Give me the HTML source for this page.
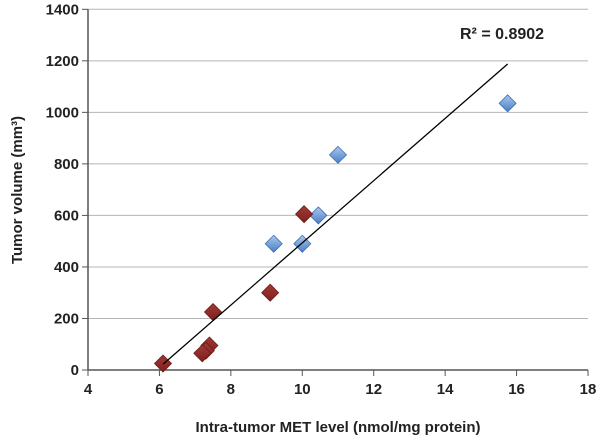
<!DOCTYPE html>
<html><head><meta charset="utf-8"><style>
body{margin:0;background:#fff;}
svg text{font-family:"Liberation Sans",sans-serif;fill:#222;}
</style></head><body>
<svg id="chart" width="600" height="442" viewBox="0 0 600 442">
<defs>
<linearGradient id="gb" x1="0" y1="0" x2="0" y2="1"><stop offset="0" stop-color="#a9c8ef"/><stop offset="1" stop-color="#4a7fc4"/></linearGradient>
<linearGradient id="gr" x1="0" y1="0" x2="0" y2="1"><stop offset="0" stop-color="#a03a36"/><stop offset="1" stop-color="#7d201e"/></linearGradient>
</defs>
<g id="grid"></g><g id="axes"></g><g id="marks"></g>
<text x="460" y="39" font-size="16" font-weight="bold">R² = 0.8902</text>
<text x="338" y="432" font-size="15" font-weight="bold" text-anchor="middle">Intra-tumor MET level (nmol/mg protein)</text>
<text transform="translate(22,190) rotate(-90)" font-size="15" font-weight="bold" text-anchor="middle">Tumor volume (mm³)</text>
</svg>
<script>
const xTicks=[4,6,8,10,12,14,16,18];
const yTicks=[0,200,400,600,800,1000,1200,1400];
const blueX=[15.75,11.0,10.45,10.0,9.2];
const blueY=[1035,835,600,490,490];
const redX=[10.05,9.1,7.5,7.4,7.3,7.2,6.1];
const redY=[605,300,225,95,75,65,25];
const NS="http://www.w3.org/2000/svg";
const x0=88,x1=588,y0=370,y1=9.3;
const sx=v=>x0+(v-4)/(18-4)*(x1-x0);
const sy=v=>y0-(v/1400)*(y0-y1);
function mk(tag,attrs,parent){const e=document.createElementNS(NS,tag);for(const k in attrs)e.setAttribute(k,attrs[k]);parent.appendChild(e);return e;}
const grid=document.getElementById('grid'),axes=document.getElementById('axes'),marks=document.getElementById('marks');
yTicks.forEach(t=>{
  if(t>0){const l=mk('line',{x1:x0,x2:x1,y1:sy(t),y2:sy(t),stroke:'#b5b5b5','stroke-width':1},grid);
  
  }
  const tk=mk('line',{x1:x0-6,x2:x0,y1:sy(t),y2:sy(t),stroke:'#555'},axes);
  
  
  const tx=mk('text',{x:x0-9,y:sy(t)+5,'font-size':15,'font-weight':'bold','text-anchor':'end'},axes);
  tx.textContent=t;
  
  
});
xTicks.forEach(t=>{
  const tk=mk('line',{x1:sx(t),x2:sx(t),y1:y0,y2:y0+6,stroke:'#555'},axes);
  
  
  const tx=mk('text',{x:sx(t),y:y0+24,'font-size':15,'font-weight':'bold','text-anchor':'middle'},axes);
  tx.textContent=t;
  
  
});
const ya=mk('line',{x1:x0,x2:x0,y1:y1,y2:y0,stroke:'#555','stroke-width':1.5},axes);


const xa=mk('line',{x1:x0,x2:x1,y1:y0,y2:y0,stroke:'#555','stroke-width':1.5},axes);


function diamond(x,y,fill,stroke){
  const cx=sx(x),cy=sy(y),r=8.5;
  const p=mk('polygon',{points:`${cx},${cy-r} ${cx+r},${cy} ${cx},${cy+r} ${cx-r},${cy}`,fill:fill,stroke:stroke,'stroke-width':0.8},marks);
  return p;
}
blueX.forEach((x,i)=>{const p=diamond(x,blueY[i],'url(#gb)','#3d6eae');
  
  });
redX.forEach((x,i)=>{const p=diamond(x,redY[i],'url(#gr)','#6e1a18');
  
  });
// trendline: least squares on all points
const ax=blueX.concat(redX),ay=blueY.concat(redY),n=ax.length;
const mx=ax.reduce((a,b)=>a+b)/n,my=ay.reduce((a,b)=>a+b)/n;
let num=0,den=0;for(let i=0;i<n;i++){num+=(ax[i]-mx)*(ay[i]-my);den+=(ax[i]-mx)**2;}
const m=num/den,b=my-m*mx;
const xmin=Math.min(...ax),xmax=Math.max(...ax);
const tl=mk('line',{x1:sx(xmin),y1:sy(m*xmin+b),x2:sx(xmax),y2:sy(m*xmax+b),stroke:'#000','stroke-width':1.3},marks);


</script>
</body></html>
